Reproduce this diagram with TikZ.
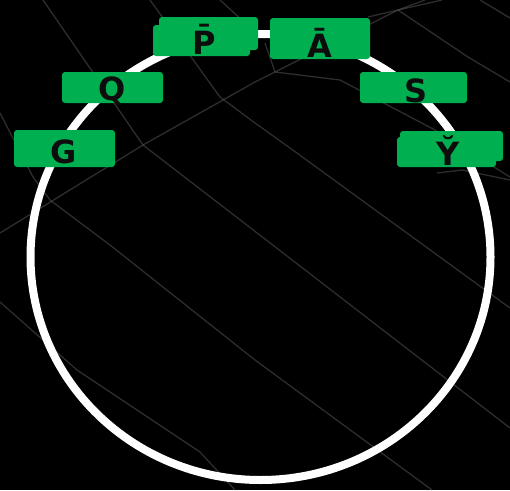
\documentclass[tikz,border=0pt]{standalone}
\usepackage{fontspec}
\newfontfamily\lblfont{DejaVu Sans}
\definecolor{boxgreen}{HTML}{00B050}
\definecolor{bgline}{HTML}{5A5A5A}
\definecolor{txt}{HTML}{0D0D0D}
\begin{document}
\begin{tikzpicture}[x=1pt,y=-1pt,
  boxst/.style={fill=boxgreen,draw=none,rounded corners=3pt,inner sep=0pt},
  lbl/.style={font=\lblfont\bfseries\fontsize{32}{32}\selectfont,text=txt,anchor=base,inner sep=0pt},
  bgl/.style={draw=bgline,line width=1.3pt,opacity=0.5,line join=round}]
\path[fill=black] (0,0) rectangle (510,490);
\useasboundingbox (0,0) rectangle (510,490);
% background texture lines
\draw[bgl] (43,0) -- (143,145) -- (510,428);
\draw[bgl] (0,233) -- (143,145) -- (255,82) -- (275,72) -- (398,10) -- (425,0);
\draw[bgl] (150,0) -- (220,97) -- (255,123) -- (290,148) -- (510,308);
\draw[bgl] (0,113) -- (33,177) -- (50,200) -- (110,245) -- (255,360) -- (432,490);
\draw[bgl] (0,302) -- (77,370) -- (200,452) -- (235,490);
\draw[bgl] (265,43) -- (275,72) -- (340,80) -- (435,130) -- (510,177);
\draw[bgl] (398,10) -- (468,57) -- (510,82);
\draw[bgl] (368,17) -- (398,10) -- (442,0);
\draw[bgl] (220,0) -- (255,32);
\draw[bgl] (437,173) -- (462,170) -- (510,180);
\draw[bgl] (480,0) -- (510,18);
% white ring
\draw[white,line width=8pt] (260.5,257) ellipse [x radius=230, y radius=223];
% boxes
\node[boxst,minimum width=99pt,minimum height=33pt] (pb1) at (208.5,33.5) {};
\node[boxst,minimum width=97pt,minimum height=31pt] (pb2) at (201.5,40.5) {};
\node[boxst,minimum width=100pt,minimum height=41pt] (ab) at (320,38.5) {};
\node[boxst,minimum width=101pt,minimum height=31pt] (qb) at (112.5,87.5) {};
\node[boxst,minimum width=101pt,minimum height=37pt] (gb) at (64.5,148.5) {};
\node[boxst,minimum width=107pt,minimum height=31pt] (sb) at (413.5,87.5) {};
\node[boxst,minimum width=103pt,minimum height=30pt] (yb1) at (451.5,146) {};
\node[boxst,minimum width=99pt,minimum height=30pt] (yb2) at (446.5,152) {};
% labels
\node[lbl] (pt) at (204,54) {\=P};
\node[lbl] (at) at (320,57) {\=A};
\node[lbl] (qt) at (112,100) {Q};
\node[lbl] (gt) at (64,163) {G};
\node[lbl] (st) at (416,102) {S};
\node[lbl] (yt) at (448,165) {\u{Y}};
\end{tikzpicture}
\end{document}
